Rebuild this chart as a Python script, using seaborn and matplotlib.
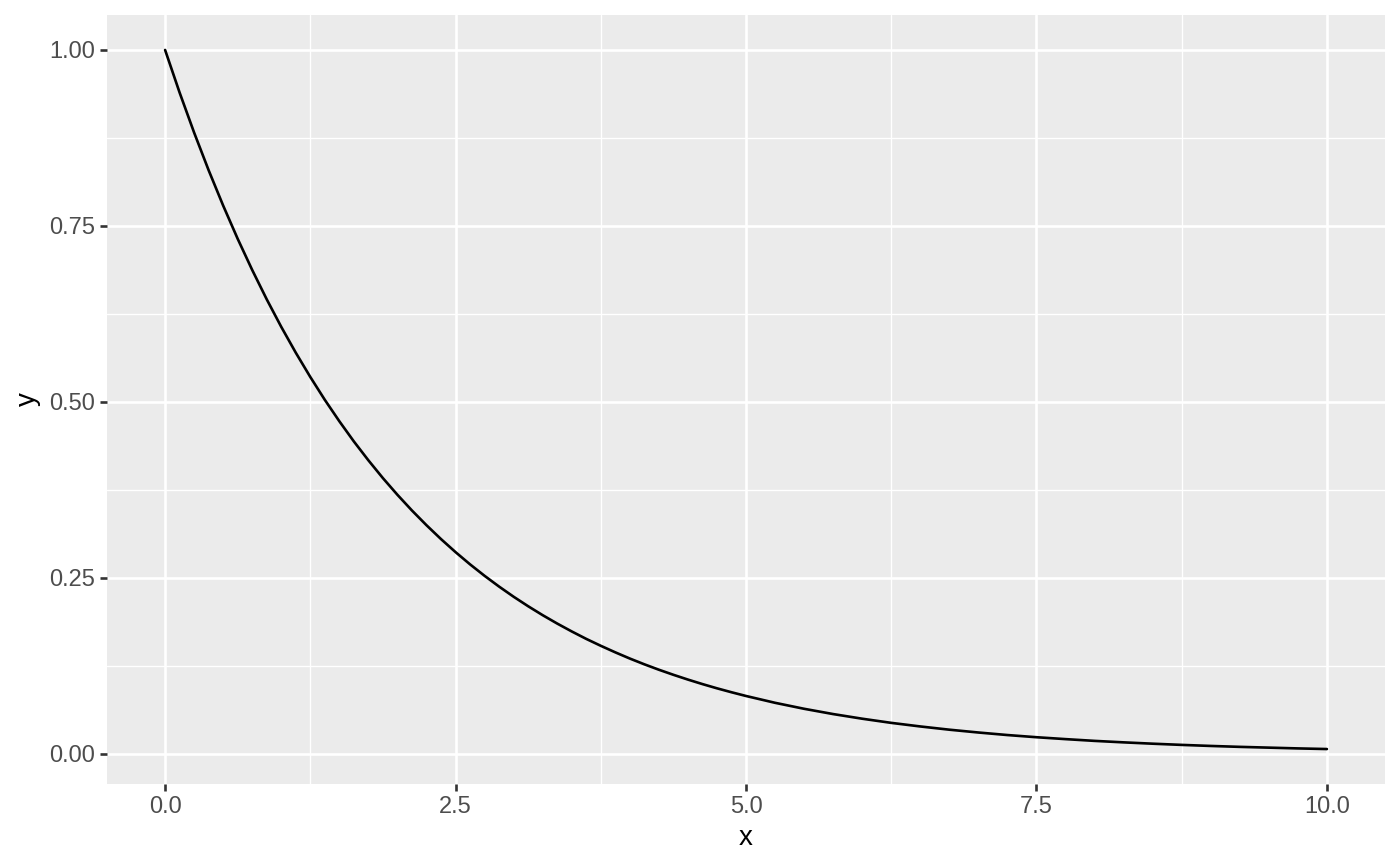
import pandas as pd
import matplotlib
matplotlib.use("Agg")
import matplotlib.pyplot as plt
import seaborn as sns
from matplotlib.ticker import MultipleLocator

# values (finer where it bends most)
x = [0.0, 0.125, 0.25, 0.375, 0.5, 0.625, 0.75, 0.875, 1.0, 1.125, 1.25, 1.375,
     1.5, 1.625, 1.75, 1.875, 2.0, 2.125, 2.25, 2.375, 2.5, 2.625, 2.75, 2.875,
     3.0, 3.125, 3.25, 3.375, 3.5, 3.625, 3.75, 3.875, 4.0, 4.125, 4.25, 4.375,
     4.5, 4.625, 4.75, 4.875, 5.0, 5.25, 5.5, 5.75, 6.0, 6.25, 6.5, 6.75,
     7.0, 7.25, 7.5, 7.75, 8.0, 8.25, 8.5, 8.75, 9.0, 9.25, 9.5, 9.75, 10.0]
y = [1.000, 0.9394, 0.8825, 0.8290, 0.7788, 0.7316, 0.6873, 0.6456, 0.6065,
     0.5698, 0.5353, 0.5028, 0.4724, 0.4437, 0.4169, 0.3916, 0.3679, 0.3456,
     0.3247, 0.3050, 0.2865, 0.2691, 0.2528, 0.2375, 0.2231, 0.2096, 0.1969,
     0.1850, 0.1738, 0.1632, 0.1534, 0.1441, 0.1353, 0.1271, 0.1194, 0.1122,
     0.1054, 0.0990, 0.0930, 0.0874, 0.0821, 0.0724, 0.0639, 0.0564, 0.0498,
     0.0439, 0.0388, 0.0342, 0.0302, 0.0266, 0.0235, 0.0208, 0.0183, 0.0162,
     0.0143, 0.0126, 0.0111, 0.0098, 0.0087, 0.0076, 0.0067]
x_ticks = [0.0, 2.5, 5.0, 7.5, 10.0]
y_ticks = [0.00, 0.25, 0.50, 0.75, 1.00]

df = pd.DataFrame({"x": x, "y": y})

sns.set_style("darkgrid", {"axes.facecolor": "#EBEBEB", "grid.color": "white"})
plt.rcParams["font.family"] = ["Liberation Sans", "DejaVu Sans"]

fig = plt.figure(figsize=(14, 8.66), dpi=100)
ax = fig.add_axes([107 / 1400, 1 - 784 / 866, (1385 - 107) / 1400, (784 - 15) / 866])

sns.lineplot(data=df, x="x", y="y", color="black", linewidth=1.9, ax=ax)

# ggplot-like expansion of 5%
xr = max(x) - min(x)
yr = max(y) - min(y)
ax.set_xlim(min(x) - 0.05 * xr, max(x) + 0.05 * xr)
ax.set_ylim(min(y) - 0.05 * yr, max(y) + 0.05 * yr)

ax.set_xticks(x_ticks)
ax.set_xticklabels([f"{v:.1f}" for v in x_ticks])
ax.set_yticks(y_ticks)
ax.set_yticklabels([f"{v:.2f}" for v in y_ticks])
ax.xaxis.set_minor_locator(MultipleLocator(1.25))
ax.yaxis.set_minor_locator(MultipleLocator(0.125))

ax.grid(which="major", color="white", linewidth=1.9)
ax.grid(which="minor", color="white", linewidth=0.95)
ax.set_axisbelow(True)
for s in ax.spines.values():
    s.set_visible(False)

ax.tick_params(which="major", length=5, width=1.9, color="#333333",
               labelsize=17, labelcolor="#4D4D4D", pad=3.5, bottom=True, left=True)
ax.tick_params(which="minor", length=0)

ax.set_xlabel("x", fontsize=20, color="black", labelpad=5)
ax.set_ylabel("y", fontsize=20, color="black", labelpad=6)

fig.savefig("out.png", dpi=100)
